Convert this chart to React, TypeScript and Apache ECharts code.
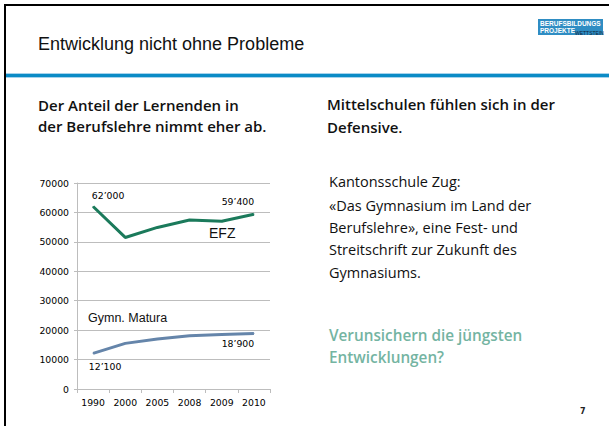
import React, { useEffect, useRef } from 'react';
import * as echarts from 'echarts';

const categories = ['1990', '2000', '2005', '2008', '2009', '2010'];
const efzValues = [62000, 51500, 54900, 57400, 57000, 59400];
const maturaValues = [12100, 15500, 17000, 18100, 18500, 18900];
const efzLabels = ['62’000', '', '', '', '', '59’400'];
const maturaLabels = ['12’100', '', '', '', '', '18’900'];
const yMin = 0;
const yMax = 70000;
const yInterval = 10000;

const NARROW = '"Liberation Sans", Arial, sans-serif';
const BODY = '"Open Sans", "Noto Sans", sans-serif';
const HEAD = '"Open Sans", "Noto Sans", sans-serif';
const TICK = '"DejaVu Sans", Verdana, sans-serif';

function labelledData(values: number[], labels: string[], pos: string, offFirst: number[], offLast: number[]) {
  return values.map((v, i) => {
    if (!labels[i]) return v;
    return {
      value: v,
      label: {
        show: true,
        position: pos,
        offset: i === 0 ? offFirst : offLast,
        formatter: labels[i],
        fontFamily: TICK,
        fontSize: 9.3,
        color: '#000',
      },
    };
  });
}

export default function App() {
  const ref = useRef<HTMLDivElement>(null);
  useEffect(() => {
    const chart = echarts.init(ref.current!, null, { renderer: 'svg' });
    const texts: any[] = [];
    const t = (x: number, y: number, text: string, font: string, size: number, weight: string, color: string, sx = 1) =>
      texts.push({
        type: 'text',
        x,
        y,
        scaleX: sx,
        style: { text, fontFamily: font, fontSize: size, fontWeight: weight, fill: color, textVerticalAlign: 'middle' },
      });
    t(38, 44, 'Entwicklung nicht ohne Probleme', NARROW, 18, 'normal', '#111');
    t(38, 105, 'Der Anteil der Lernenden in', HEAD, 15, '600', '#111');
    t(38, 126, 'der Berufslehre nimmt eher ab.', HEAD, 15, '600', '#111');
    t(327, 104, 'Mittelschulen fühlen sich in der', HEAD, 15, '600', '#111');
    t(327, 127, 'Defensive.', HEAD, 15, '600', '#111');
    t(329, 181, 'Kantonsschule Zug:', BODY, 14.5, 'normal', '#111');
    t(329, 205, '«Das Gymnasium im Land der', BODY, 14.5, 'normal', '#111');
    t(329, 227, 'Berufslehre», eine Fest- und', BODY, 14.5, 'normal', '#111');
    t(329, 249, 'Streitschrift zur Zukunft des', BODY, 14.5, 'normal', '#111');
    t(329, 272, 'Gymnasiums.', BODY, 14.5, 'normal', '#111');
    t(329, 335, 'Verunsichern die jüngsten', HEAD, 15.3, '600', '#74b4a2');
    t(329, 357, 'Entwicklungen?', HEAD, 15.3, '600', '#74b4a2');
    t(580, 411, '7', TICK, 8, 'bold', '#222');
    // series names
    t(209, 233, 'EFZ', NARROW, 14, 'normal', '#111');
    t(88, 318, 'Gymn. Matura', NARROW, 12.5, 'normal', '#111');

    const tickLabel = { fontFamily: TICK, fontSize: 9.3, color: '#000', margin: 8 };
    const option: any = {
      animation: false,
      backgroundColor: '#fff',
      grid: { left: 77, right: 339, top: 183, bottom: 37 },
      xAxis: {
        type: 'category',
        data: categories,
        boundaryGap: true,
        axisLine: { show: true, lineStyle: { color: '#bdbdbd', width: 1 } },
        axisTick: { show: true, length: 4, lineStyle: { color: '#bdbdbd' } },
        axisLabel: { ...tickLabel, margin: 9 },
      },
      yAxis: {
        type: 'value',
        min: yMin,
        max: yMax,
        interval: yInterval,
        axisLine: { show: true, lineStyle: { color: '#bdbdbd', width: 1 } },
        axisTick: { show: true, length: 3, lineStyle: { color: '#bdbdbd' } },
        splitLine: { show: true, lineStyle: { color: '#bdbdbd', width: 1 } },
        axisLabel: { ...tickLabel, formatter: (v: number) => String(v) },
      },
      series: [
        {
          name: 'EFZ',
          type: 'line',
          data: labelledData(efzValues, efzLabels, 'top', [15, -1], [-16, -3]),
          symbol: 'circle',
          symbolSize: 1,
          showSymbol: true,
          lineStyle: { color: '#1b7a5b', width: 3 },
          itemStyle: { color: '#1b7a5b' },
        },
        {
          name: 'Gymn. Matura',
          type: 'line',
          data: labelledData(maturaValues, maturaLabels, 'bottom', [12, 3], [-16, 0]),
          symbol: 'circle',
          symbolSize: 1,
          showSymbol: true,
          lineStyle: { color: '#6585aa', width: 3 },
          itemStyle: { color: '#6585aa' },
        },
      ],
      graphic: [
        { type: 'rect', shape: { x: 4, y: 4, width: 605, height: 2 }, style: { fill: '#000' } },
        { type: 'rect', shape: { x: 4, y: 4, width: 2, height: 422 }, style: { fill: '#000' } },
        { type: 'rect', shape: { x: 6, y: 73, width: 603, height: 5 }, style: { fill: '#a6d3ec' } },
        { type: 'rect', shape: { x: 6, y: 74, width: 603, height: 3 }, style: { fill: '#0b8bc6' } },
        { type: 'rect', shape: { x: 538, y: 19, width: 65, height: 16 }, style: { fill: '#2f8dc3' } },
        { type: 'text', x: 540, y: 23.5, style: { text: 'BERUFSBILDUNGS', fontFamily: '"Liberation Sans", Arial, sans-serif', fontSize: 6.5, fontWeight: 'bold', fill: '#fff', textVerticalAlign: 'middle' } },
        { type: 'text', x: 540, y: 30, style: { text: 'PROJEKTE', fontFamily: '"Liberation Sans", Arial, sans-serif', fontSize: 6.5, fontWeight: 'bold', fill: '#fff', textVerticalAlign: 'middle' } },
        { type: 'text', x: 575, y: 32.5, style: { text: 'WETTSTEIN', fontFamily: '"Liberation Sans", sans-serif', fontSize: 5, fill: '#10243a', textVerticalAlign: 'middle' } },
        ...texts,
      ],
    };
    chart.setOption(option);
    return () => chart.dispose();
  }, []);
  return (
    <div
      ref={ref}
      style={{ position: 'fixed', left: 0, top: 0, width: 609, height: 426, background: '#fff' }}
    />
  );
}
